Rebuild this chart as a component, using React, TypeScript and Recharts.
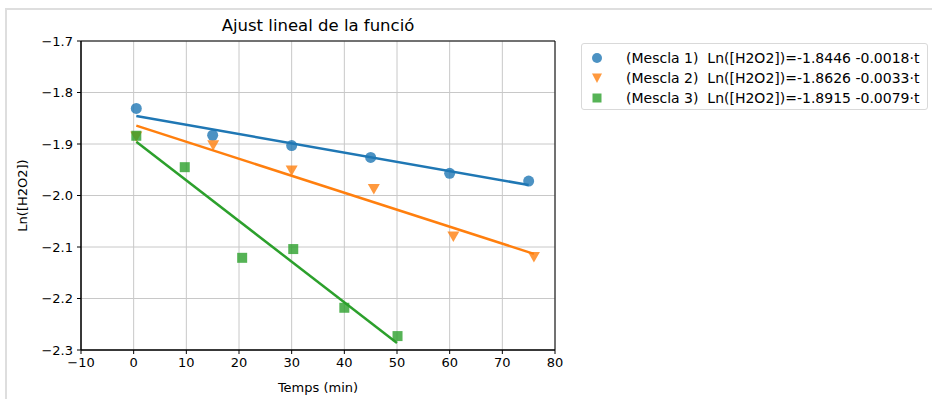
import React from "react";
import {
  ComposedChart,
  Line,
  Scatter,
  XAxis,
  YAxis,
  CartesianGrid,
  ReferenceArea,
} from "recharts";

const xTicks = [-10, 0, 10, 20, 30, 40, 50, 60, 70, 80];
const yTicks = [-2.3, -2.2, -2.1, -2.0, -1.9, -1.8, -1.7];

const mescla1Points = [
  { x: 0.5, y: -1.831 },
  { x: 15, y: -1.883 },
  { x: 30, y: -1.903 },
  { x: 45, y: -1.926 },
  { x: 60, y: -1.957 },
  { x: 75, y: -1.972 },
];
const mescla2Points = [
  { x: 0.5, y: -1.885 },
  { x: 15.1, y: -1.902 },
  { x: 30, y: -1.951 },
  { x: 45.6, y: -1.987 },
  { x: 60.7, y: -2.079 },
  { x: 76, y: -2.119 },
];
const mescla3Points = [
  { x: 0.5, y: -1.884 },
  { x: 9.7, y: -1.945 },
  { x: 20.6, y: -2.121 },
  { x: 30.3, y: -2.104 },
  { x: 40, y: -2.218 },
  { x: 50.1, y: -2.273 },
];
const mescla1Fit = [
  { x: 0.5, y: -1.8455 },
  { x: 75, y: -1.9796 },
];
const mescla2Fit = [
  { x: 0.5, y: -1.8643 },
  { x: 76, y: -2.1134 },
];
const mescla3Fit = [
  { x: 0.5, y: -1.8955 },
  { x: 50, y: -2.2865 },
];
const legendLabels = [
  "(Mescla 1)  Ln([H2O2])=-1.8446 -0.0018·t",
  "(Mescla 2)  Ln([H2O2])=-1.8626 -0.0033·t",
  "(Mescla 3)  Ln([H2O2])=-1.8915 -0.0079·t",
];

const BLUE = "#1f77b4";
const ORANGE = "#ff7f0e";
const GREEN = "#2ca02c";
const FONT = "'DejaVu Sans', sans-serif";
const TICK_FS = 13;

const fmt = (v: number) => String(v).replace("-", "\u2212");
const fmtY = (v: number) => v.toFixed(1).replace("-", "\u2212");

const Circle = (props: any) => {
  const { cx, cy } = props;
  if (cx == null || cy == null) return null;
  return <circle cx={cx} cy={cy} r={5.5} fill={BLUE} fillOpacity={0.8} />;
};
const Tri = (props: any) => {
  const { cx, cy } = props;
  if (cx == null || cy == null) return null;
  const s = 6;
  return (
    <path
      d={`M${cx - s},${cy - s * 0.8} L${cx + s},${cy - s * 0.8} L${cx},${cy + s * 0.95} Z`}
      fill={ORANGE}
      fillOpacity={0.8}
    />
  );
};
const Sq = (props: any) => {
  const { cx, cy } = props;
  if (cx == null || cy == null) return null;
  const s = 5;
  return <rect x={cx - s} y={cy - s} width={2 * s} height={2 * s} fill={GREEN} fillOpacity={0.8} />;
};

const legendMarker = (i: number) => {
  if (i === 0)
    return (
      <svg width={12} height={12}>
        <circle cx={6} cy={6} r={5} fill={BLUE} fillOpacity={0.8} />
      </svg>
    );
  if (i === 1)
    return (
      <svg width={12} height={12}>
        <path d="M1,1.5 L11,1.5 L6,11 Z" fill={ORANGE} fillOpacity={0.8} />
      </svg>
    );
  return (
    <svg width={12} height={12}>
      <rect x={1.5} y={1.5} width={9} height={9} fill={GREEN} fillOpacity={0.8} />
    </svg>
  );
};

export default function App() {
  return (
    <div
      style={{
        position: "fixed",
        left: 0,
        top: 0,
        width: 932,
        height: 399,
        background: "#fff",
        fontFamily: FONT,
        overflow: "hidden",
      }}
    >
      <div
        style={{
          position: "absolute",
          left: 5,
          top: 8,
          width: 940,
          height: 400,
          borderLeft: "2px solid #dedede",
          borderTop: "2px solid #dedede",
        }}
      />
      <div
        style={{
          position: "absolute",
          left: 81,
          width: 474,
          top: 16,
          textAlign: "center",
          fontSize: 16.5,
          lineHeight: "20px",
          color: "#000",
        }}
      >
        Ajust lineal de la funció
      </div>
      <div style={{ position: "absolute", left: 0, top: 0 }}>
        <ComposedChart
          width={932}
          height={399}
          margin={{ top: 41, right: 377, bottom: 19, left: 11 }}
        >
          <CartesianGrid stroke="#c8c8c8" strokeWidth={1} />
          <XAxis
            type="number"
            dataKey="x"
            domain={[-10, 80]}
            ticks={xTicks}
            allowDataOverflow
            height={30}
            tickFormatter={fmt}
            tick={{ fill: "#000", fontSize: TICK_FS, fontFamily: FONT }}
            tickSize={4}
            tickMargin={4}
            axisLine={{ stroke: "#000" }}
            tickLine={{ stroke: "#000" }}
            label={{
              value: "Temps (min)",
              position: "insideBottom",
              offset: -12,
              fill: "#000",
              fontSize: TICK_FS,
              fontFamily: FONT,
            }}
          />
          <YAxis
            type="number"
            dataKey="y"
            domain={[-2.3, -1.7]}
            ticks={yTicks}
            allowDataOverflow
            width={70}
            tickFormatter={fmtY}
            tick={{ fill: "#000", fontSize: TICK_FS, fontFamily: FONT }}
            tickSize={4}
            tickMargin={4}
            axisLine={{ stroke: "#000" }}
            tickLine={{ stroke: "#000" }}
            label={{
              value: "Ln([H2O2])",
              angle: -90,
              position: "insideLeft",
              offset: 11,
              fill: "#000",
              fontSize: TICK_FS,
              fontFamily: FONT,
              style: { textAnchor: "middle" },
            }}
          />
          <Scatter data={mescla1Points} dataKey="y" shape={Circle} isAnimationActive={false} />
          <Scatter data={mescla2Points} dataKey="y" shape={Tri} isAnimationActive={false} />
          <Scatter data={mescla3Points} dataKey="y" shape={Sq} isAnimationActive={false} />
          <Line
            data={mescla1Fit}
            dataKey="y"
            stroke={BLUE}
            strokeWidth={2.5}
            dot={false}
            isAnimationActive={false}
            type="linear"
          />
          <Line
            data={mescla2Fit}
            dataKey="y"
            stroke={ORANGE}
            strokeWidth={2.5}
            dot={false}
            isAnimationActive={false}
            type="linear"
          />
          <Line
            data={mescla3Fit}
            dataKey="y"
            stroke={GREEN}
            strokeWidth={2.5}
            dot={false}
            isAnimationActive={false}
            type="linear"
          />
          <ReferenceArea
            x1={-10}
            x2={80}
            y1={-2.3}
            y2={-1.7}
            fill="none"
            fillOpacity={0}
            stroke="#000"
            strokeWidth={1}
            ifOverflow="visible"
          />
        </ComposedChart>
      </div>
      <div
        style={{
          position: "absolute",
          left: 581,
          top: 43,
          width: 347,
          height: 67,
          border: "1px solid #d9d9d9",
          borderRadius: 3,
          boxSizing: "border-box",
          padding: "4px 0 0 9px",
          fontSize: 14,
          color: "#000",
          lineHeight: "20px",
        }}
      >
        {legendLabels.map((lab, i) => (
          <div key={i} style={{ display: "flex", alignItems: "center", height: 20 }}>
            <span style={{ width: 35, display: "inline-flex" }}>{legendMarker(i)}</span>
            <span style={{ whiteSpace: "pre" }}>{lab}</span>
          </div>
        ))}
      </div>
    </div>
  );
}
